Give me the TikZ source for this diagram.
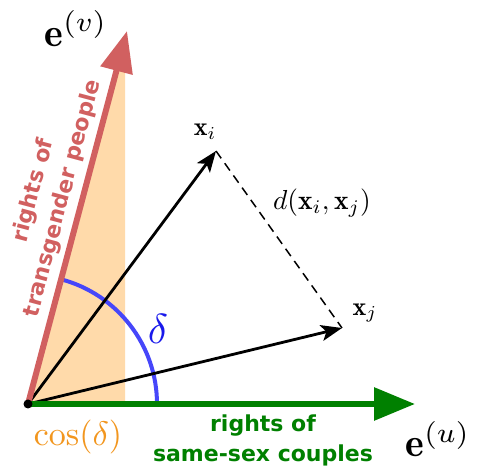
\documentclass[tikz,border=0pt]{standalone}
\usepackage{fontspec}
\newfontfamily\dvs{DejaVu Sans}
\usetikzlibrary{arrows.meta}
\definecolor{evred}{RGB}{209,96,96}
\definecolor{peach}{RGB}{255,218,170}
\definecolor{eugreen}{RGB}{0,128,0}
\definecolor{arcblue}{RGB}{70,70,250}
\definecolor{deltablue}{RGB}{25,25,235}
\definecolor{cosorange}{RGB}{242,150,30}
\begin{document}
\begin{tikzpicture}[x=1pt,y=-1pt,
  basisarrow/.style={line width=6pt,-{Triangle[length=41pt,width=32pt]}},
  vec/.style={line width=2.8pt,-{Stealth[length=21pt,width=16pt,inset=5pt]}},
  axislabel/.style={font=\dvs\bfseries\fontsize{22}{30}\selectfont, align=center, inner sep=0pt},
  mathlabel/.style={inner sep=0pt},
]
\useasboundingbox (0,0) rectangle (488,470);
\coordinate (O) at (28,404);
\coordinate (EV) at (127,31);
\coordinate (EU) at (415,404);
\coordinate (XI) at (216,151);
\coordinate (XJ) at (342,328);
\coordinate (C) at (125,404);
\coordinate (CT) at (125,38.5);
% shaded projection
\fill[peach] (O) -- (C) -- (CT) -- cycle;
% angle arc
\draw[arcblue, line width=4pt] ([xshift=129pt]O) arc[start angle=0, end angle=75.1, radius=129pt];
% vectors
\draw[vec] (O) -- (XI);
\draw[vec] (O) -- (XJ);
\draw[line width=1.5pt, dash pattern=on 9pt off 6pt] (XI) -- (XJ);
% basis axes
\draw[basisarrow, evred] (O) -- (EV);
\draw[basisarrow, eugreen] (O) -- (EU);
\fill (O) circle[radius=4.5pt];
% labels
\node[mathlabel, scale=4.0] (ev) at (76,28.5) {$\mathbf{e}^{(v)}$};
\node[mathlabel, scale=4.0] (eu) at (438,439) {$\mathbf{e}^{(u)}$};
\node[mathlabel, scale=2.6] (xil) at (205,132) {$\mathbf{x}_i$};
\node[mathlabel, scale=2.6] (xjl) at (365,313) {$\mathbf{x}_j$};
\node[mathlabel, scale=2.75] (dl) at (322,203) {$d(\mathbf{x}_i,\mathbf{x}_j)$};
\node[mathlabel, scale=4.2, text=deltablue] (dlt) at (158,329) {$\delta$};
\node[mathlabel, scale=3.4, text=cosorange] (cosl) at (78,437) {$\cos(\delta)$};
\node[axislabel, text=evred, rotate=75.1] (tl) at (48.5,194.5) {rights of\\transgender people};
\node[axislabel, text=eugreen] (sl) at (263,440) {rights of\\same-sex couples};
\end{tikzpicture}
\end{document}
